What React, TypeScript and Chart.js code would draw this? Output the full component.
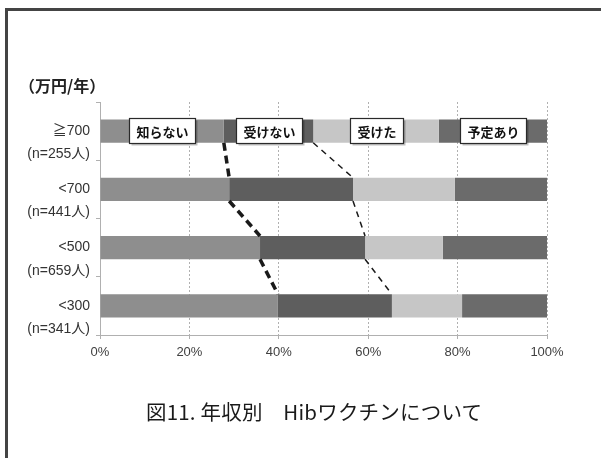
import React, { useEffect, useRef } from "react";
import { Chart, registerables } from "chart.js";

Chart.register(...registerables);

// ---- data ----
const categories: string[][] = [
  ["", "≧700", "(n=255人)"],
  ["", "<700", "(n=441人)"],
  ["", "<500", "(n=659人)"],
  ["", "<300", "(n=341人)"],
];
const seriesNames = ["知らない", "受けない", "受けた", "予定あり"];
const shiranai = [27.7, 28.9, 35.8, 39.8];
const ukenai = [20.0, 27.7, 23.5, 25.5];
const uketa = [28.1, 22.8, 17.4, 15.7];
const yoteiari = [24.2, 20.6, 23.3, 19.0];
const seriesValues = [shiranai, ukenai, uketa, yoteiari];
const seriesColors = ["#8e8e8e", "#5e5e5e", "#c6c6c6", "#6b6b6b"];
const xTickValues = [0, 20, 40, 60, 80, 100];
const unitLabel = "（万円/年）";
const caption = "図11. 年収別　Hibワクチンについて";

const JP = "'Noto Sans CJK JP', 'Noto Sans', sans-serif";
const LAT = "'Liberation Sans', 'Noto Sans CJK JP', sans-serif";

const connectorPlugin = {
  id: "connectors",
  afterDatasetsDraw(chart: any) {
    const ctx = chart.ctx;
    const specs = [
      { ds: 0, width: 3.5, dash: [8, 5] },
      { ds: 1, width: 1.5, dash: [6, 5] },
    ];
    specs.forEach((s) => {
      const els = chart.getDatasetMeta(s.ds).data;
      ctx.save();
      ctx.strokeStyle = "#1a1a1a";
      ctx.lineWidth = s.width;
      ctx.setLineDash(s.dash);
      for (let i = 0; i < els.length - 1; i++) {
        const a = els[i].getProps(["x", "y", "height"], true);
        const b = els[i + 1].getProps(["x", "y", "height"], true);
        ctx.beginPath();
        ctx.moveTo(a.x, a.y + a.height / 2);
        ctx.lineTo(b.x, b.y - b.height / 2);
        ctx.stroke();
      }
      ctx.restore();
    });
  },
};

const boxLabelPlugin = {
  id: "boxLabels",
  afterDatasetsDraw(chart: any) {
    const ctx = chart.ctx;
    ctx.save();
    ctx.font = `bold 13px ${JP}`;
    chart.data.datasets.forEach((ds: any, d: number) => {
      const el = chart.getDatasetMeta(d).data[0];
      const p = el.getProps(["x", "y", "base"], true);
      const cx = (p.x + p.base) / 2;
      const cy = p.y - 1;
      const text = ds.label;
      const tw = ctx.measureText(text).width;
      const w = tw + 14;
      const h = 25;
      const x0 = Math.round(cx - w / 2) + 0.5;
      const y0 = Math.round(cy - h / 2) + 0.5;
      ctx.fillStyle = "rgba(0,0,0,0.25)";
      ctx.fillRect(x0 + 2, y0 + 2, w, h);
      ctx.fillStyle = "#ffffff";
      ctx.fillRect(x0, y0, w, h);
      ctx.strokeStyle = "#2a2a2a";
      ctx.lineWidth = 1.2;
      ctx.strokeRect(x0, y0, w, h);
      ctx.fillStyle = "#111";
      ctx.textAlign = "center";
      ctx.textBaseline = "middle";
      ctx.fillText(text, x0 + w / 2, y0 + h / 2 + 1);
    });
    ctx.restore();
  },
};

export default function App() {
  const ref = useRef<HTMLCanvasElement | null>(null);

  useEffect(() => {
    if (!ref.current) return;
    const chart = new Chart(ref.current, {
      type: "bar",
      data: {
        labels: categories as any,
        datasets: seriesNames.map((name, i) => ({
          label: name,
          data: seriesValues[i],
          backgroundColor: seriesColors[i],
          borderWidth: 0,
          categoryPercentage: 1,
          barPercentage: 0.4,
        })),
      },
      options: {
        indexAxis: "y",
        animation: false,
        responsive: false,
        maintainAspectRatio: false,
        layout: { padding: { left: 0, right: 54, top: 102, bottom: 0 } },
        plugins: {
          legend: { display: false },
          tooltip: { enabled: false },
          title: { display: false },
        },
        scales: {
          x: {
            stacked: true,
            min: 0,
            max: 100,
            afterFit: (scale: any) => {
              scale.height = 123;
            },
            afterBuildTicks: (scale: any) => {
              scale.ticks = xTickValues.map((v) => ({ value: v }));
            },
            ticks: {
              callback: (v: any) => `${v}%`,
              font: { family: LAT, size: 13 },
              color: "#404040",
              padding: 6,
            },
            grid: {
              color: "#b0b0b0",
              lineWidth: 1,
              drawTicks: true,
              tickLength: 4,
            },
            border: { display: true, color: "#b0b0b0", dash: [2, 2] },
          },
          y: {
            stacked: true,
            afterFit: (scale: any) => {
              scale.width = 100;
            },
            ticks: {
              autoSkip: false,
              font: { family: LAT, size: 14, lineHeight: 1.65 },
              color: "#333333",
              padding: 6,
            },
            grid: {
              drawOnChartArea: false,
              drawTicks: true,
              tickLength: 4,
              offset: true,
              color: "#b0b0b0",
            },
            border: { display: true, color: "#b0b0b0", dash: [2, 2] },
          },
        },
      },
      plugins: [connectorPlugin, boxLabelPlugin],
    });
    return () => chart.destroy();
  }, []);

  return (
    <div
      style={{
        position: "absolute",
        left: 0,
        top: 0,
        width: 601,
        height: 458,
        background: "#ffffff",
        overflow: "hidden",
      }}
    >
      <div
        style={{
          position: "absolute",
          left: 5,
          top: 8,
          width: 620,
          height: 470,
          borderTop: "3px solid #444",
          borderLeft: "3px solid #444",
        }}
      />
      <canvas
        ref={ref}
        width={601}
        height={458}
        style={{ position: "absolute", left: 0, top: 0, width: 601, height: 458 }}
      />
      <div
        style={{
          position: "absolute",
          left: 19,
          top: 74,
          fontFamily: JP,
          fontWeight: "bold",
          fontSize: 16,
          color: "#222",
          whiteSpace: "nowrap",
          lineHeight: "22px",
        }}
      >
        {unitLabel}
      </div>
      <div
        style={{
          position: "absolute",
          left: 146,
          top: 398,
          fontFamily: JP,
          fontSize: 20.5,
          letterSpacing: "0.2px",
          color: "#1a1a1a",
          whiteSpace: "nowrap",
          lineHeight: "26px",
        }}
      >
        {caption}
      </div>
    </div>
  );
}
